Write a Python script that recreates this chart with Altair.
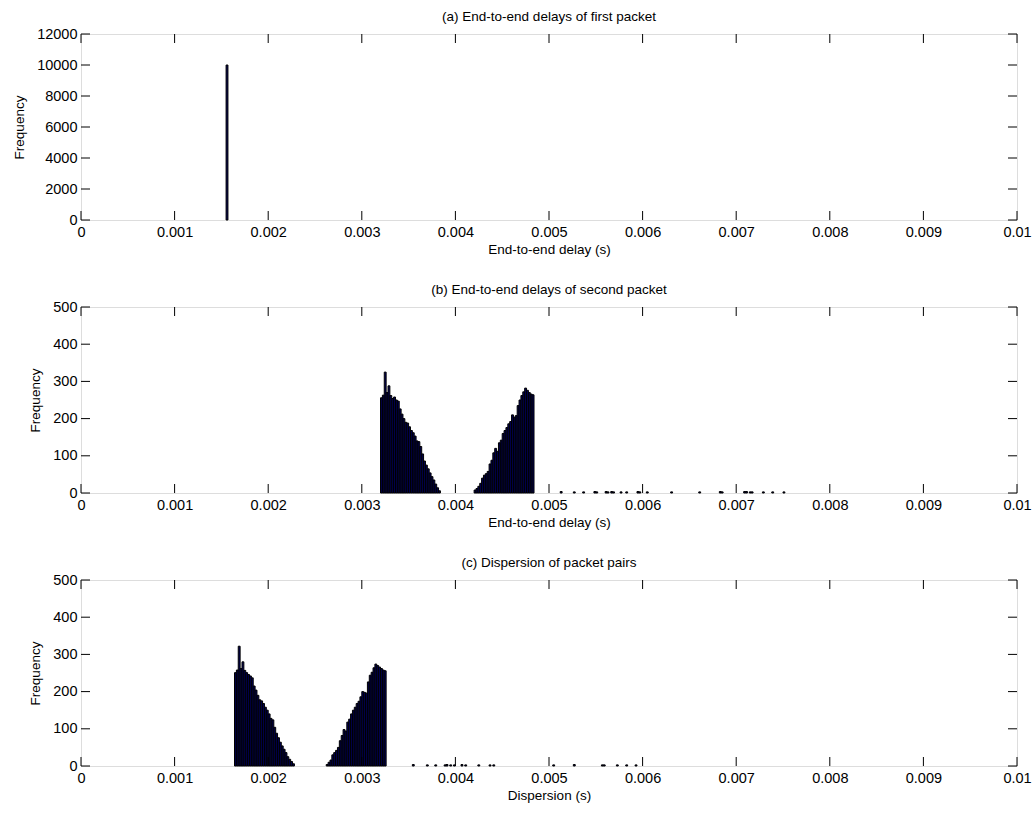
import altair as alt
import pandas as pd

FONT = "Liberation Sans"
LSIZE = 14.5
TSIZE = 13.5
W, H = 936, 186
BIN = 0.00002

# ---- data ----
x_ticks = [0, 0.001, 0.002, 0.003, 0.004, 0.005, 0.006, 0.007, 0.008, 0.009, 0.01]
ya_ticks = [0, 2000, 4000, 6000, 8000, 10000, 12000]
ybc_ticks = [0, 100, 200, 300, 400, 500]

# (a) first packet
a_start = 0.00155
a_counts = [10000]

# (b) second packet
b1_start = 0.0032
b1_counts = [256, 263, 325, 270, 288, 262, 254, 258, 250, 247, 226, 212, 200, 190, 188, 178,
             168, 162, 153, 140, 138, 125, 105, 86, 75, 65, 54, 44, 35, 24, 14, 6]
b2_start = 0.0042
b2_counts = [8, 12, 18, 26, 40, 48, 52, 58, 78, 88, 108, 120, 112, 135, 142, 160,
             168, 176, 186, 192, 210, 204, 208, 235, 250, 262, 272, 282, 276, 270, 266, 264]
b_tail_x = [0.00512, 0.00526, 0.00536, 0.00548, 0.0055, 0.0056, 0.00562, 0.00566, 0.00568,
            0.00576, 0.00582, 0.00594, 0.00596, 0.00604, 0.0063, 0.0066, 0.00682, 0.00684,
            0.00708, 0.0071, 0.00714, 0.00716, 0.00728, 0.00738, 0.0075]
b_tail_counts = [4, 3, 3, 4, 3, 4, 3, 4, 3, 3, 3, 4, 3, 3, 3, 3, 4, 3, 4, 4, 3, 3, 3, 3, 3]

# (c) dispersion
c1_start = 0.00164
c1_counts = [251, 258, 322, 262, 280, 257, 251, 246, 242, 237, 215, 204, 190, 178, 175, 168,
             158, 150, 140, 128, 124, 104, 88, 76, 64, 54, 45, 36, 25, 18, 12, 6]
c2_start = 0.00262
c2_counts = [4, 10, 16, 30, 36, 42, 50, 68, 82, 98, 94, 118, 126, 140, 150, 158,
             168, 174, 186, 200, 198, 196, 226, 244, 252, 264, 274, 270, 266, 262, 258, 256]
c_tail_x = [0.00354, 0.00369, 0.00378, 0.00388, 0.0039, 0.00394, 0.00398, 0.00406, 0.0041,
            0.00424, 0.00436, 0.0044, 0.00504, 0.00526, 0.00556, 0.00558, 0.00572, 0.00582, 0.00592]
c_tail_counts = [4, 3, 3, 3, 4, 3, 3, 4, 3, 3, 3, 3, 3, 4, 3, 3, 3, 3, 3]


def bins(start, counts):
    return [(start + i * BIN, start + (i + 1) * BIN, c) for i, c in enumerate(counts)]


def tails(xs, counts):
    return [(x, x + BIN, c) for x, c in zip(xs, counts)]


def frame(rows):
    return pd.DataFrame(rows, columns=["x0", "x1", "count"]).assign(zero=0)


df_a = frame(bins(a_start, a_counts))
df_b = frame(bins(b1_start, b1_counts) + bins(b2_start, b2_counts) + tails(b_tail_x, b_tail_counts))
df_c = frame(bins(c1_start, c1_counts) + bins(c2_start, c2_counts) + tails(c_tail_x, c_tail_counts))


def panel(df, title, xtitle, ymax, yticks):
    xs = alt.Scale(domain=[0, 0.01], nice=False, zero=False)
    ys = alt.Scale(domain=[0, ymax], nice=False)
    common = dict(grid=False, ticks=False, domain=False, labelOverlap=False, labelFlush=False,
                  labelFont=FONT, titleFont=FONT, labelFontSize=LSIZE, titleFontSize=TSIZE,
                  titleFontWeight="normal", labelColor="black", titleColor="black")
    xaxis = alt.Axis(values=x_ticks, labelExpr="format(datum.value, '~g')",
                     labelPadding=5, titlePadding=4, **common)
    yaxis = alt.Axis(values=yticks, format="d", labelPadding=4, titlePadding=10, **common)
    bars = alt.Chart(df).mark_rect(fill="#000058", stroke="black", strokeWidth=1).encode(
        x=alt.X("x0:Q", scale=xs, axis=xaxis, title=xtitle),
        x2="x1:Q",
        y=alt.Y("count:Q", scale=ys, axis=yaxis, title="Frequency"),
        y2="zero:Q",
    )
    xt = pd.DataFrame({"v": x_ticks})
    yt = pd.DataFrame({"v": yticks})
    bottom = alt.Chart(xt).mark_rule(color="black", strokeWidth=1).encode(
        x=alt.X("v:Q", scale=xs, axis=xaxis, title=xtitle), y=alt.value(H), y2=alt.value(H - 9))
    top = alt.Chart(xt).mark_rule(color="black", strokeWidth=1).encode(
        x=alt.X("v:Q", scale=xs, axis=xaxis, title=xtitle), y=alt.value(0), y2=alt.value(9))
    left = alt.Chart(yt).mark_rule(color="black", strokeWidth=1).encode(
        y=alt.Y("v:Q", scale=ys, axis=yaxis, title="Frequency"), x=alt.value(0), x2=alt.value(9))
    right = alt.Chart(yt).mark_rule(color="black", strokeWidth=1).encode(
        y=alt.Y("v:Q", scale=ys, axis=yaxis, title="Frequency"), x=alt.value(W - 9), x2=alt.value(W))
    return alt.layer(bars, bottom, top, left, right).properties(
        width=W, height=H,
        title=alt.TitleParams(title, font=FONT, fontSize=TSIZE, fontWeight="normal",
                              color="black", offset=3, anchor="middle"),
    )


pa = panel(df_a, "(a) End-to-end delays of first packet", "End-to-end delay (s)", 12000, ya_ticks)
pb = panel(df_b, "(b) End-to-end delays of second packet", "End-to-end delay (s)", 500, ybc_ticks)
pc = panel(df_c, "(c) Dispersion of packet pairs", "Dispersion (s)", 500, ybc_ticks)

chart = alt.vconcat(pa, pb, pc, spacing=25).properties(
    padding={"left": 12, "top": 9, "right": 0, "bottom": 0}
).configure_view(stroke="black", strokeWidth=1).configure_axis(
    labelOverlap=False
).configure(background="white")

chart.save("out.html", embed_options={"renderer": "svg", "actions": False})
